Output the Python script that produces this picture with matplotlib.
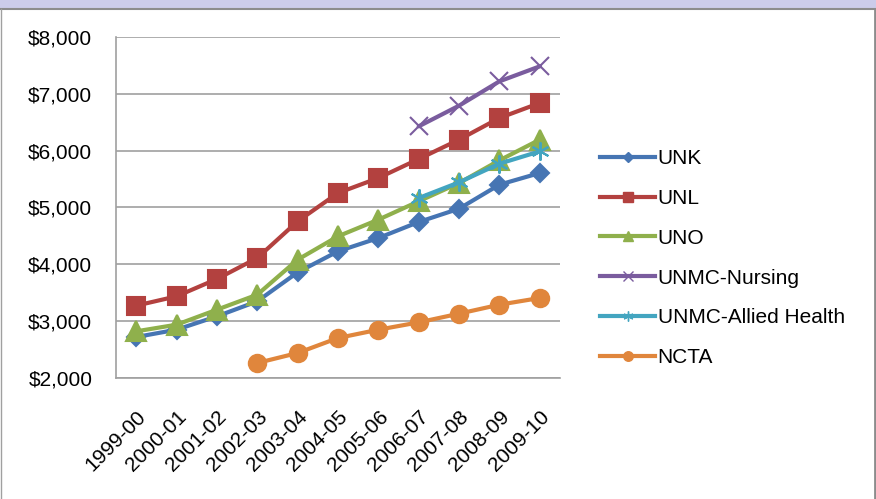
import matplotlib.pyplot as plt
from matplotlib.patches import Rectangle
from matplotlib.lines import Line2D
from matplotlib.ticker import FuncFormatter

plt.rcParams['font.family'] = ['Liberation Sans', 'DejaVu Sans']

years = ['1999-00', '2000-01', '2001-02', '2002-03', '2003-04', '2004-05',
         '2005-06', '2006-07', '2007-08', '2008-09', '2009-10']

unk = [2721, 2850, 3085, 3349, 3859, 4229, 4463, 4745, 4979, 5402, 5607]
unl = [3273, 3437, 3742, 4111, 4757, 5255, 5519, 5853, 6194, 6575, 6839]
uno = [2821, 2938, 3202, 3466, 4082, 4493, 4786, 5109, 5431, 5830, 6194]
nursing = [None] * 7 + [6428, 6792, 7220, 7484]
allied = [None] * 7 + [5167, 5443, 5771, 5988]
ncta = [None] * 3 + [2264, 2440, 2704, 2850, 2979, 3132, 3290, 3408]

series = [
    ('UNK', unk, '#4675B3', 'D', 9),
    ('UNL', unl, '#B3413F', 's', 13),
    ('UNO', uno, '#8FB04C', '^', 14),
    ('UNMC-Nursing', nursing, '#7A5C9E', 'x', 13),
    ('UNMC-Allied Health', allied, '#43A5C0', (6, 2, 0), 13),
    ('NCTA', ncta, '#E0863C', 'o', 12.5),
]

fig = plt.figure(figsize=(8.76, 4.99), dpi=100)
ax = fig.add_axes([116 / 876, 1 - 378 / 499, (560 - 116) / 876, (378 - 37) / 499])

x = list(range(len(years)))
for name, vals, col, mk, ms in series:
    xs = [i for i, v in zip(x, vals) if v is not None]
    ys = [v for v in vals if v is not None]
    ax.plot(xs, ys, color=col, lw=3, marker=mk, ms=ms, mfc=col, mec=col,
            mew=1.5, label=name, solid_capstyle='round')

ax.set_xlim(-0.5, len(years) - 0.5)
ax.set_ylim(2000, 8000)
ax.set_yticks(range(2000, 8001, 1000))
ax.yaxis.set_major_formatter(FuncFormatter(lambda v, p: '${:,.0f}'.format(v)))
ax.set_xticks(x)
ax.set_xticklabels(years)
plt.setp(ax.get_xticklabels(), rotation=45, ha='right', va='top',
         rotation_mode='anchor')
ax.tick_params(axis='y', length=0, pad=17, labelsize=15)
ax.tick_params(axis='x', length=0, pad=21, labelsize=15)

ax.grid(axis='y', color='#A0A0A0', lw=1.2)
ax.set_axisbelow(True)
for s in ['top', 'right']:
    ax.spines[s].set_visible(False)
for s in ['left', 'bottom']:
    ax.spines[s].set_color('#A0A0A0')
    ax.spines[s].set_linewidth(1.2)

handles = [Line2D([], [], color=col, lw=3, marker=mk, ms=ms * 0.55, mfc=col,
                  mec=col, mew=1) for name, vals, col, mk, ms in series]
labels = [s[0] for s in series]
fig.legend(handles, labels, loc='upper left',
           bbox_to_anchor=(600 / 876, 1 - 149 / 499), frameon=False,
           fontsize=15, borderpad=0, borderaxespad=0, handlelength=2.65,
           handletextpad=0.12, labelspacing=1.0)

# outer frame like the spreadsheet chart object
fig.patches.append(Rectangle((0, 1 - 8 / 499), 1, 8 / 499, transform=fig.transFigure,
                             facecolor='#CCCCEA', edgecolor='none'))
fig.lines.append(Line2D([0, 1], [1 - 9 / 499] * 2, transform=fig.transFigure,
                        color='#8C8C8C', lw=1.5))
fig.lines.append(Line2D([0.5 / 876] * 2, [0, 1 - 9 / 499], transform=fig.transFigure,
                        color='#A0A0A0', lw=1))
fig.lines.append(Line2D([874.5 / 876] * 2, [0, 1 - 9 / 499], transform=fig.transFigure,
                        color='#8C8C8C', lw=2))

fig.savefig('out.png', dpi=100)
